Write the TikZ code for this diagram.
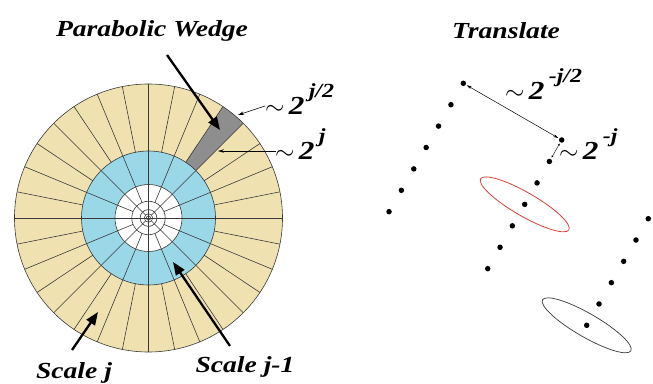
\documentclass[tikz,border=0pt]{standalone}
\usepackage{fontspec}
\newfontfamily\lbl[FakeStretch=1.2]{Liberation Serif}
\usetikzlibrary{arrows.meta,calc}
\definecolor{ringtan}{HTML}{EFE2B0}
\definecolor{ringblue}{HTML}{9AD8E8}
\definecolor{wedgegray}{HTML}{8E8E8E}
\definecolor{gridline}{HTML}{3A3A3A}
\definecolor{ellred}{HTML}{D8403A}
\tikzset{grid/.style={gridline,line width=.6pt},
dot/.style={circle,fill=black,inner sep=0pt,minimum size=5.5pt},
bigarrow/.style={-{Triangle[length=13pt,width=10pt]},line width=2.3pt},
thinarrow/.style={-{Stealth[length=6pt,width=3.5pt]},line width=.6pt},
ttl/.style={font=\lbl\bfseries\itshape\fontsize{23}{25}\selectfont,inner sep=0pt},
pow/.style={font=\lbl\bfseries\itshape\fontsize{26}{28}\selectfont,inner sep=0pt,anchor=base west}}
\newcommand{\twopow}[1]{$\sim$\,2\,\raisebox{17pt}{\fontsize{20}{22}\selectfont#1}}
\begin{document}
\begin{tikzpicture}[x=1pt,y=1pt]
\useasboundingbox(0,0)rectangle(653,383);
\coordinate(o)at(148.5,165);
\fill[ringtan](o)circle(134pt);\fill[ringblue](o)circle(67pt);\fill[white](o)circle(33.5pt);
\fill[wedgegray]($(o)+(45:67pt)$)arc[start angle=45,end angle=56.25,radius=67pt]--($(o)+(56.25:134pt)$)arc[start angle=56.25,end angle=45,radius=134pt]--cycle;
\foreach\k in{0,...,31}\draw[grid]($(o)+({\k*11.25}:67pt)$)--($(o)+({\k*11.25}:134pt)$);
\foreach\k in{0,...,15}\draw[grid]($(o)+({\k*22.5}:16.75pt)$)--($(o)+({\k*22.5}:67pt)$);
\foreach\k in{0,...,7}\draw[grid]($(o)+({\k*45}:4.2pt)$)--($(o)+({\k*45}:16.75pt)$);
\foreach\k in{0,...,3}\draw[grid](o)--($(o)+({\k*90}:4.2pt)$);
\foreach\r in{134,67,33.5,16.75,8.4,4.2,2.1}\draw[grid](o)circle(\r pt);
\node[ttl](pw)at(152,352){Parabolic Wedge};
\node[ttl](tr)at(506,352){Translate};
\node[ttl,anchor=base](sj)at(74,5){Scale j};
\node[ttl,anchor=base](sj1)at(245,11){Scale j-1};
\coordinate(pwtail)at(167,328);\coordinate(pwtip)at(220,253);
\coordinate(sjtail)at(72,33);\coordinate(sjtip)at(98,71);
\coordinate(sj1tail)at(230,37);\coordinate(sj1tip)at(173,121);
\draw[bigarrow](pwtail)--(pwtip);\draw[bigarrow](sjtail)--(sjtip);\draw[bigarrow](sj1tail)--(sj1tip);
\node[pow](wl)at(265,268){\twopow{j/2}};
\node[pow](wb)at(275,223){\twopow{j}};
\coordinate(wltip)at(238,268);\coordinate(wbtip)at(218,232);
\draw[thinarrow]($(wl.base west)+(0,9)$)--(wltip);
\draw[thinarrow]($(wb.base west)+(1,9)$)--(wbtip);
\foreach\i in{1,...,7}\node[dot](a\i)at({463.3-12.38*(\i-1)},{299.7-21.4*(\i-1)}){};
\foreach\i in{1,...,7}\node[dot](b\i)at({561.7-12.33*(\i-1)},{243-21.45*(\i-1)}){};
\foreach\i in{1,...,6}\node[dot](c\i)at({648.3-12.32*(\i-1)},{164.3-21.32*(\i-1)}){};
\draw[ellred,line width=.8pt,rotate around={-30:(b4)}](b4)ellipse(51pt and 11.8pt);
\draw[gridline,line width=.7pt,rotate around={-30:(c6)}](c6)ellipse(51pt and 11.8pt);
\draw[{Stealth[length=5pt,width=3pt]}-{Stealth[length=5pt,width=3pt]},line width=.5pt,shorten <=1pt,shorten >=1pt](a1)--(b1);
\draw[{Stealth[length=2.5pt,width=2pt]}-{Stealth[length=2.5pt,width=2pt]},line width=.4pt,shorten <=1pt,shorten >=1.5pt](b1)--(b2);
\node[pow](tl)at(505,283){\twopow{-j/2}};
\node[pow](tb)at(559,223){\twopow{-j}};
\end{tikzpicture}
\end{document}
